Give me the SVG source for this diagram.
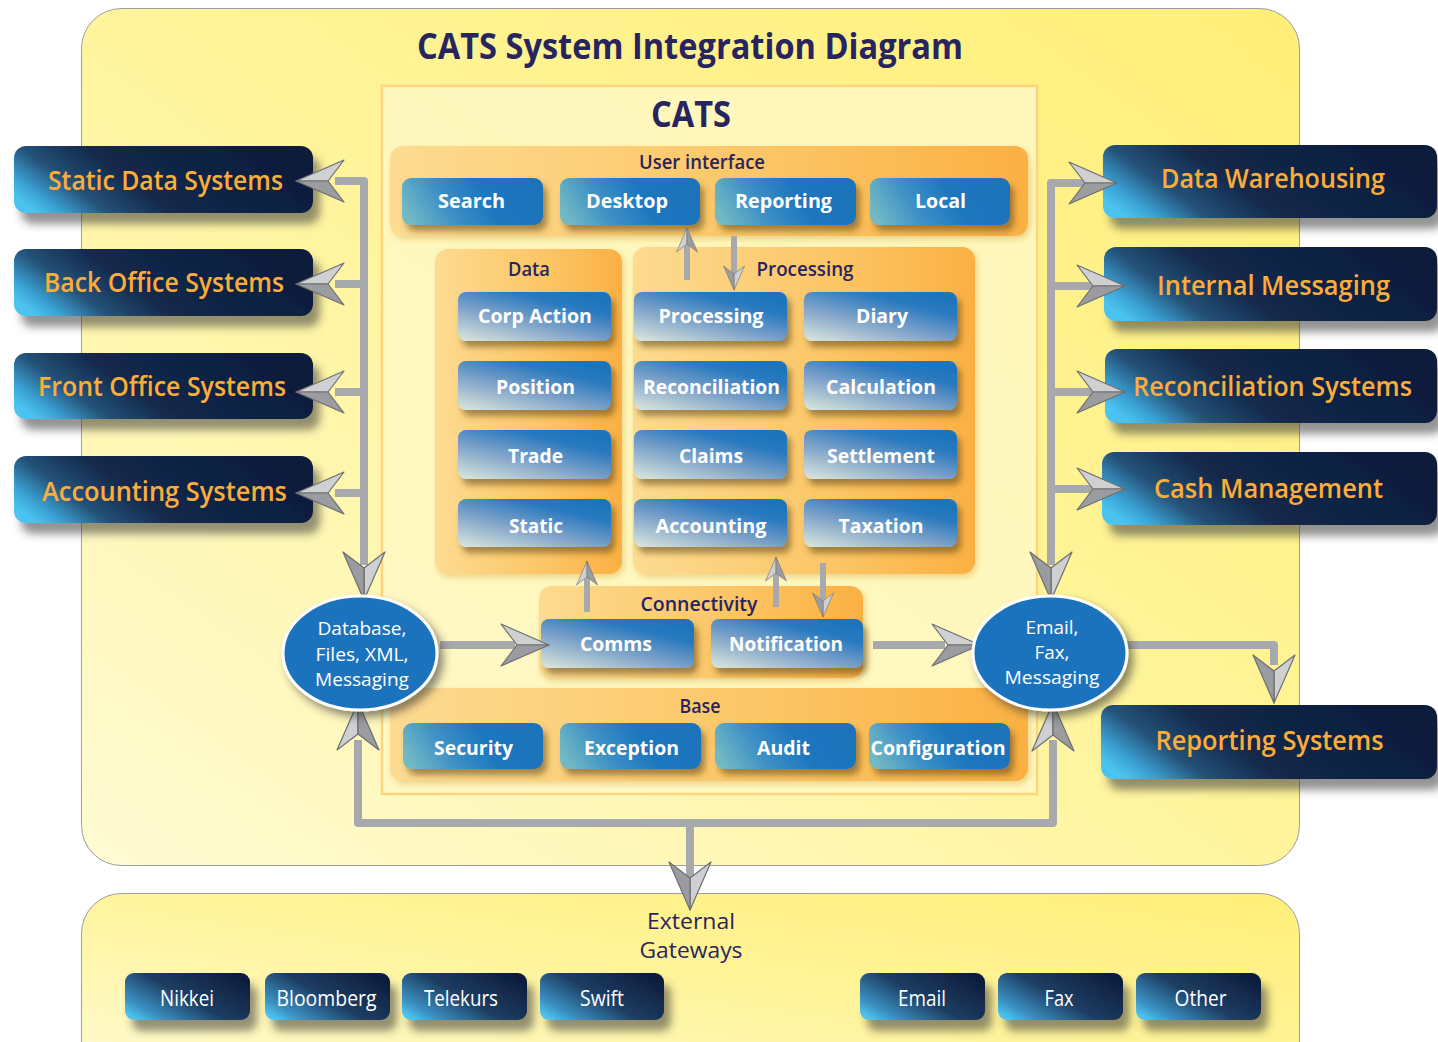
<svg xmlns="http://www.w3.org/2000/svg" xmlns:xlink="http://www.w3.org/1999/xlink" width="1438" height="1042" viewBox="0 0 1438 1042">
<defs>
  <linearGradient id="yel" x1="0" y1="1" x2="1" y2="0">
    <stop offset="0" stop-color="#fffbd4"/>
    <stop offset="0.5" stop-color="#fff49c"/>
    <stop offset="1" stop-color="#ffef78"/>
  </linearGradient>
  <linearGradient id="ext" x1="0" y1="0.75" x2="1" y2="0.45">
    <stop offset="0" stop-color="#4cc3f0"/>
    <stop offset="0.08" stop-color="#3aa2d4"/>
    <stop offset="0.22" stop-color="#255279"/>
    <stop offset="0.42" stop-color="#13294b"/>
    <stop offset="1" stop-color="#0c1c3b"/>
  </linearGradient>
  <linearGradient id="gw" x1="0" y1="0.85" x2="1" y2="0.2">
    <stop offset="0" stop-color="#4cc3f0"/>
    <stop offset="0.15" stop-color="#3a8fc0"/>
    <stop offset="0.5" stop-color="#1d3d62"/>
    <stop offset="1" stop-color="#0d1d3c"/>
  </linearGradient>
  <linearGradient id="inner" x1="0" y1="1" x2="0.75" y2="0">
    <stop offset="0" stop-color="#dde8dc"/>
    <stop offset="0.45" stop-color="#7fa3c9"/>
    <stop offset="0.8" stop-color="#2a7abf"/>
    <stop offset="1" stop-color="#1c75bc"/>
  </linearGradient>
  <linearGradient id="ui" x1="0" y1="0.6" x2="1" y2="0.4">
    <stop offset="0" stop-color="#72b9c4"/>
    <stop offset="0.3" stop-color="#3d90c6"/>
    <stop offset="0.6" stop-color="#1e77be"/>
    <stop offset="1" stop-color="#1c73bb"/>
  </linearGradient>
  <linearGradient id="org" x1="0" y1="0" x2="1" y2="0">
    <stop offset="0" stop-color="#fddb91"/>
    <stop offset="0.6" stop-color="#fcc565"/>
    <stop offset="1" stop-color="#fbb042"/>
  </linearGradient>
  <filter id="esh" x="-10%" y="-20%" width="130%" height="160%">
    <feDropShadow dx="7" dy="11" stdDeviation="4.5" flood-color="#3a3a3a" flood-opacity="0.55"/>
  </filter>
  <filter id="bsh" x="-10%" y="-20%" width="130%" height="160%">
    <feDropShadow dx="4" dy="6" stdDeviation="3" flood-color="#5a4516" flood-opacity="0.55"/>
  </filter>
  <filter id="psh" x="-10%" y="-10%" width="120%" height="130%">
    <feDropShadow dx="2" dy="3" stdDeviation="3" flood-color="#c58a1e" flood-opacity="0.35"/>
  </filter>
  <filter id="osh" x="-20%" y="-20%" width="150%" height="150%">
    <feDropShadow dx="5" dy="6" stdDeviation="4" flood-color="#333" flood-opacity="0.55"/>
  </filter>
  <g id="ah">
    <path d="M0,0 L-48,-21 L-32,0 Z" fill="#cfd0d2" stroke="#6d6e71" stroke-width="1.2" stroke-linejoin="round"/>
    <path d="M0,0 L-32,0 L-48,21 Z" fill="#9a9c9f" stroke="#6d6e71" stroke-width="1.2" stroke-linejoin="round"/>
  </g>
  <style>
    .ttl{font-family:"Open Sans","Noto Sans",sans-serif;font-weight:700;fill:#28245f;text-anchor:middle}
    .glbl{font-family:"Open Sans","Noto Sans",sans-serif;font-weight:600;font-size:19px;fill:#28245f;text-anchor:middle}
    .etxt{font-family:"Open Sans","Noto Sans",sans-serif;font-weight:600;font-size:27px;fill:#fbad3b;text-anchor:middle}
    .btxt{font-family:"Open Sans","Noto Sans",sans-serif;font-weight:700;font-size:20px;fill:#ffffff;text-anchor:middle}
    .otxt{font-family:"Open Sans","Noto Sans",sans-serif;font-weight:400;font-size:19px;fill:#ffffff;text-anchor:middle}
    .gtxt{font-family:"Open Sans","Noto Sans",sans-serif;font-weight:400;font-size:21px;fill:#ffffff;text-anchor:middle}
    .xtxt{font-family:"Open Sans","Noto Sans",sans-serif;font-weight:400;font-size:21px;fill:#28245f;text-anchor:middle}
    .ext{fill:url(#ext);filter:url(#esh)}
    .gwb{fill:url(#gw);filter:url(#esh)}
    .inb{fill:url(#inner);filter:url(#bsh)}
    .uib{fill:url(#ui);filter:url(#bsh)}
    .pan{fill:url(#org);filter:url(#psh)}
    .bus{fill:none;stroke:#a7a9ac;stroke-width:8;stroke-linejoin:round}
    .sbus{fill:none;stroke:#a7a9ac;stroke-width:6}
    .ell{fill:#1e73bd;stroke:#ffffff;stroke-width:3;filter:url(#osh)}
  </style>
</defs>

<!-- background panels -->
<g id="mainPanel">
  <rect x="81.5" y="8.5" width="1218" height="857" rx="40" fill="url(#yel)" stroke="#9d9d9d" stroke-width="1"/>
  <text class="ttl" x="690" y="59" font-size="35" textLength="546" lengthAdjust="spacingAndGlyphs">CATS System Integration Diagram</text>
</g>
<g id="gatewayPanel">
  <rect x="81.5" y="893.5" width="1218" height="190" rx="40" fill="url(#yel)" stroke="#9d9d9d" stroke-width="1"/>
  <text class="xtxt" x="691" y="929" textLength="88" lengthAdjust="spacingAndGlyphs">External</text>
  <text class="xtxt" x="691" y="958" textLength="103" lengthAdjust="spacingAndGlyphs">Gateways</text>
</g>
<g id="cats">
  <rect x="382" y="86" width="655" height="708" fill="#fff8c4" fill-opacity="0.85" stroke="#fed57e" stroke-width="2.5"/>
  <text class="ttl" x="691" y="127" font-size="35" textLength="80" lengthAdjust="spacingAndGlyphs">CATS</text>
</g>

<!-- CATS sub-groups -->
<g id="userInterface">
  <rect class="pan" x="390" y="146" width="638" height="90" rx="13"/>
  <text class="glbl" x="702" y="169" textLength="126" lengthAdjust="spacingAndGlyphs">User interface</text>
</g>
<g id="dataGroup">
  <rect class="pan" x="435" y="249" width="187" height="325" rx="13"/>
  <text class="glbl" x="529" y="276" textLength="42" lengthAdjust="spacingAndGlyphs">Data</text>
</g>
<g id="processingGroup">
  <rect class="pan" x="633" y="247" width="342" height="327" rx="13"/>
  <text class="glbl" x="805" y="276" textLength="97" lengthAdjust="spacingAndGlyphs">Processing</text>
</g>
<g id="connectivityGroup">
  <rect class="pan" x="539" y="586" width="324" height="92" rx="13"/>
  <text class="glbl" x="699" y="611" textLength="117" lengthAdjust="spacingAndGlyphs">Connectivity</text>
</g>
<g id="baseGroup">
  <rect class="pan" x="390" y="688" width="638" height="93" rx="13"/>
  <text class="glbl" x="700" y="713" textLength="41" lengthAdjust="spacingAndGlyphs">Base</text>
</g>

<!-- UI buttons -->
<g id="search"><rect class="uib" x="402" y="178" width="141" height="47" rx="9"/><text class="btxt" x="471.5" y="208" textLength="67" lengthAdjust="spacingAndGlyphs">Search</text></g>
<g id="desktop"><rect class="uib" x="560" y="178" width="140" height="47" rx="9"/><text class="btxt" x="627" y="208" textLength="82" lengthAdjust="spacingAndGlyphs">Desktop</text></g>
<g id="reporting"><rect class="uib" x="715" y="178" width="141" height="47" rx="9"/><text class="btxt" x="783.5" y="208" textLength="97" lengthAdjust="spacingAndGlyphs">Reporting</text></g>
<g id="local"><rect class="uib" x="870" y="178" width="140" height="47" rx="9"/><text class="btxt" x="940.5" y="208" textLength="51" lengthAdjust="spacingAndGlyphs">Local</text></g>

<!-- Data buttons -->
<g id="corpAction"><rect class="inb" x="458" y="292" width="153" height="49" rx="8"/><text class="btxt" x="535" y="323" textLength="114" lengthAdjust="spacingAndGlyphs">Corp Action</text></g>
<g id="position"><rect class="inb" x="458" y="361" width="153" height="49" rx="8"/><text class="btxt" x="535.5" y="394" textLength="79" lengthAdjust="spacingAndGlyphs">Position</text></g>
<g id="trade"><rect class="inb" x="458" y="430" width="153" height="49" rx="8"/><text class="btxt" x="535.5" y="463" textLength="55" lengthAdjust="spacingAndGlyphs">Trade</text></g>
<g id="static"><rect class="inb" x="458" y="499" width="153" height="48" rx="8"/><text class="btxt" x="536" y="533" textLength="54" lengthAdjust="spacingAndGlyphs">Static</text></g>

<!-- Processing buttons -->
<g id="processing"><rect class="inb" x="634" y="292" width="153" height="49" rx="8"/><text class="btxt" x="711" y="323" textLength="105" lengthAdjust="spacingAndGlyphs">Processing</text></g>
<g id="reconciliation"><rect class="inb" x="634" y="361" width="153" height="49" rx="8"/><text class="btxt" x="711.5" y="394" textLength="137" lengthAdjust="spacingAndGlyphs">Reconciliation</text></g>
<g id="claims"><rect class="inb" x="634" y="430" width="153" height="49" rx="8"/><text class="btxt" x="711" y="463" textLength="64" lengthAdjust="spacingAndGlyphs">Claims</text></g>
<g id="accounting"><rect class="inb" x="634" y="499" width="153" height="48" rx="8"/><text class="btxt" x="711" y="533" textLength="111" lengthAdjust="spacingAndGlyphs">Accounting</text></g>
<g id="diary"><rect class="inb" x="804" y="292" width="153" height="49" rx="8"/><text class="btxt" x="882" y="323" textLength="52" lengthAdjust="spacingAndGlyphs">Diary</text></g>
<g id="calculation"><rect class="inb" x="804" y="361" width="153" height="49" rx="8"/><text class="btxt" x="881" y="394" textLength="110" lengthAdjust="spacingAndGlyphs">Calculation</text></g>
<g id="settlement"><rect class="inb" x="804" y="430" width="153" height="49" rx="8"/><text class="btxt" x="881" y="463" textLength="108" lengthAdjust="spacingAndGlyphs">Settlement</text></g>
<g id="taxation"><rect class="inb" x="804" y="499" width="153" height="48" rx="8"/><text class="btxt" x="881" y="533" textLength="85" lengthAdjust="spacingAndGlyphs">Taxation</text></g>

<!-- Connectivity buttons -->
<g id="comms"><rect class="inb" x="541" y="619" width="153" height="49" rx="8"/><text class="btxt" x="616" y="651" textLength="72" lengthAdjust="spacingAndGlyphs">Comms</text></g>
<g id="notification"><rect class="inb" x="711" y="619" width="152" height="49" rx="8"/><text class="btxt" x="786" y="651" textLength="114" lengthAdjust="spacingAndGlyphs">Notification</text></g>

<!-- Base buttons -->
<g id="security"><rect class="uib" x="403" y="723" width="140" height="46" rx="9"/><text class="btxt" x="473.5" y="755" textLength="79" lengthAdjust="spacingAndGlyphs">Security</text></g>
<g id="exception"><rect class="uib" x="560" y="723" width="141" height="46" rx="9"/><text class="btxt" x="631.5" y="755" textLength="95" lengthAdjust="spacingAndGlyphs">Exception</text></g>
<g id="audit"><rect class="uib" x="715" y="723" width="141" height="46" rx="9"/><text class="btxt" x="783.5" y="755" textLength="53" lengthAdjust="spacingAndGlyphs">Audit</text></g>
<g id="configuration"><rect class="uib" x="869" y="723" width="141" height="46" rx="9"/><text class="btxt" x="938" y="755" textLength="135" lengthAdjust="spacingAndGlyphs">Configuration</text></g>

<!-- Left external systems -->
<g id="staticDataSystems"><rect class="ext" x="14" y="146" width="299" height="67" rx="12"/><text class="etxt" x="165.5" y="190" textLength="235" lengthAdjust="spacingAndGlyphs">Static Data Systems</text></g>
<g id="backOfficeSystems"><rect class="ext" x="14" y="249" width="299" height="67" rx="12"/><text class="etxt" x="164" y="292" textLength="240" lengthAdjust="spacingAndGlyphs">Back Office Systems</text></g>
<g id="frontOfficeSystems"><rect class="ext" x="14" y="353" width="299" height="66" rx="12"/><text class="etxt" x="162" y="396" textLength="248" lengthAdjust="spacingAndGlyphs">Front Office Systems</text></g>
<g id="accountingSystems"><rect class="ext" x="14" y="456" width="299" height="67" rx="12"/><text class="etxt" x="164.5" y="501" textLength="245" lengthAdjust="spacingAndGlyphs">Accounting Systems</text></g>

<!-- Right external systems -->
<g id="dataWarehousing"><rect class="ext" x="1103" y="145" width="334" height="73" rx="12"/><text class="etxt" x="1273" y="188" textLength="224" lengthAdjust="spacingAndGlyphs">Data Warehousing</text></g>
<g id="internalMessaging"><rect class="ext" x="1104" y="247" width="333" height="74" rx="12"/><text class="etxt" x="1273.5" y="295" textLength="233" lengthAdjust="spacingAndGlyphs">Internal Messaging</text></g>
<g id="reconciliationSystems"><rect class="ext" x="1105" y="349" width="332" height="74" rx="12"/><text class="etxt" x="1272.5" y="396" textLength="279" lengthAdjust="spacingAndGlyphs">Reconciliation Systems</text></g>
<g id="cashManagement"><rect class="ext" x="1102" y="452" width="335" height="73" rx="12"/><text class="etxt" x="1268.5" y="498" textLength="229" lengthAdjust="spacingAndGlyphs">Cash Management</text></g>
<g id="reportingSystems"><rect class="ext" x="1101" y="705" width="336" height="74" rx="12"/><text class="etxt" x="1269.5" y="750" textLength="228" lengthAdjust="spacingAndGlyphs">Reporting Systems</text></g>

<!-- Gateways -->
<g id="nikkei"><rect class="gwb" x="125" y="973" width="125" height="47" rx="9"/><text class="gtxt" x="187" y="1006" textLength="54" lengthAdjust="spacingAndGlyphs">Nikkei</text></g>
<g id="bloomberg"><rect class="gwb" x="265" y="973" width="125" height="47" rx="9"/><text class="gtxt" x="326.5" y="1006" textLength="100" lengthAdjust="spacingAndGlyphs">Bloomberg</text></g>
<g id="telekurs"><rect class="gwb" x="402" y="973" width="125" height="47" rx="9"/><text class="gtxt" x="461" y="1006" textLength="74" lengthAdjust="spacingAndGlyphs">Telekurs</text></g>
<g id="swift"><rect class="gwb" x="540" y="973" width="124" height="47" rx="9"/><text class="gtxt" x="602" y="1006" textLength="44" lengthAdjust="spacingAndGlyphs">Swift</text></g>
<g id="emailGw"><rect class="gwb" x="860" y="973" width="125" height="47" rx="9"/><text class="gtxt" x="922" y="1006" textLength="48" lengthAdjust="spacingAndGlyphs">Email</text></g>
<g id="faxGw"><rect class="gwb" x="998" y="973" width="125" height="47" rx="9"/><text class="gtxt" x="1059" y="1006" textLength="29" lengthAdjust="spacingAndGlyphs">Fax</text></g>
<g id="otherGw"><rect class="gwb" x="1136" y="973" width="125" height="47" rx="9"/><text class="gtxt" x="1200.5" y="1006" textLength="52" lengthAdjust="spacingAndGlyphs">Other</text></g>

<!-- Connectors -->
<g id="connectors">
  <!-- left bus -->
  <path class="bus" d="M335,181 H364 V565"/>
  <path class="bus" d="M335,284 H364 M335,392 H364 M335,493 H364"/>
  <use xlink:href="#ah" href="#ah" transform="translate(296,181) scale(-1,1)"/>
  <use xlink:href="#ah" href="#ah" transform="translate(296,284) scale(-1,1)"/>
  <use xlink:href="#ah" href="#ah" transform="translate(296,392) scale(-1,1)"/>
  <use xlink:href="#ah" href="#ah" transform="translate(296,493) scale(-1,1)"/>
  <use xlink:href="#ah" href="#ah" transform="translate(364,600) rotate(90)"/>
  <!-- right bus -->
  <path class="bus" d="M1085,183 H1051 V565"/>
  <path class="bus" d="M1051,286 H1092 M1051,392 H1092 M1051,489 H1092"/>
  <use xlink:href="#ah" href="#ah" transform="translate(1117,183)"/>
  <use xlink:href="#ah" href="#ah" transform="translate(1125,286)"/>
  <use xlink:href="#ah" href="#ah" transform="translate(1125,392)"/>
  <use xlink:href="#ah" href="#ah" transform="translate(1125,489)"/>
  <use xlink:href="#ah" href="#ah" transform="translate(1051,600) rotate(90)"/>
  <!-- ellipse to comms, notification to ellipse -->
  <path class="bus" d="M440,645 H515"/>
  <use xlink:href="#ah" href="#ah" transform="translate(549,645)"/>
  <path class="bus" d="M873,645 H945"/>
  <use xlink:href="#ah" href="#ah" transform="translate(980,645)"/>
  <!-- right ellipse to reporting systems -->
  <path class="bus" d="M1127,645 H1274 V665"/>
  <use xlink:href="#ah" href="#ah" transform="translate(1274,703) rotate(90)"/>
  <!-- bottom bus -->
  <path class="bus" d="M358,740 V823 H1053 V740"/>
  <path class="bus" d="M690,823 V880"/>
  <use xlink:href="#ah" href="#ah" transform="translate(358,702) rotate(-90)"/>
  <use xlink:href="#ah" href="#ah" transform="translate(1053,703) rotate(-90)"/>
  <use xlink:href="#ah" href="#ah" transform="translate(690,910) rotate(90)"/>
  <!-- inner small arrows -->
  <path class="sbus" d="M687,280 V240"/>
  <use xlink:href="#ah" href="#ah" transform="translate(687,228) rotate(-90) scale(0.5)"/>
  <path class="sbus" d="M734,236 V278"/>
  <use xlink:href="#ah" href="#ah" transform="translate(734,290) rotate(90) scale(0.5)"/>
  <path class="sbus" d="M587,612 V572"/>
  <use xlink:href="#ah" href="#ah" transform="translate(587,561) rotate(-90) scale(0.5)"/>
  <path class="sbus" d="M776,607 V568"/>
  <use xlink:href="#ah" href="#ah" transform="translate(776,557) rotate(-90) scale(0.5)"/>
  <path class="sbus" d="M823,563 V605"/>
  <use xlink:href="#ah" href="#ah" transform="translate(823,617) rotate(90) scale(0.5)"/>
</g>

<!-- Hubs -->
<g id="databaseHub">
  <ellipse class="ell" cx="360" cy="653" rx="77" ry="57"/>
  <text class="otxt" x="362" y="635" textLength="89" lengthAdjust="spacingAndGlyphs">Database,</text>
  <text class="otxt" x="362" y="661" textLength="93" lengthAdjust="spacingAndGlyphs">Files, XML,</text>
  <text class="otxt" x="362" y="686" textLength="94" lengthAdjust="spacingAndGlyphs">Messaging</text>
</g>
<g id="messagingHub">
  <ellipse class="ell" cx="1050" cy="653" rx="77" ry="57"/>
  <text class="otxt" x="1052" y="634" textLength="53" lengthAdjust="spacingAndGlyphs">Email,</text>
  <text class="otxt" x="1052" y="659" textLength="35" lengthAdjust="spacingAndGlyphs">Fax,</text>
  <text class="otxt" x="1052" y="684" textLength="95" lengthAdjust="spacingAndGlyphs">Messaging</text>
</g>
</svg>
